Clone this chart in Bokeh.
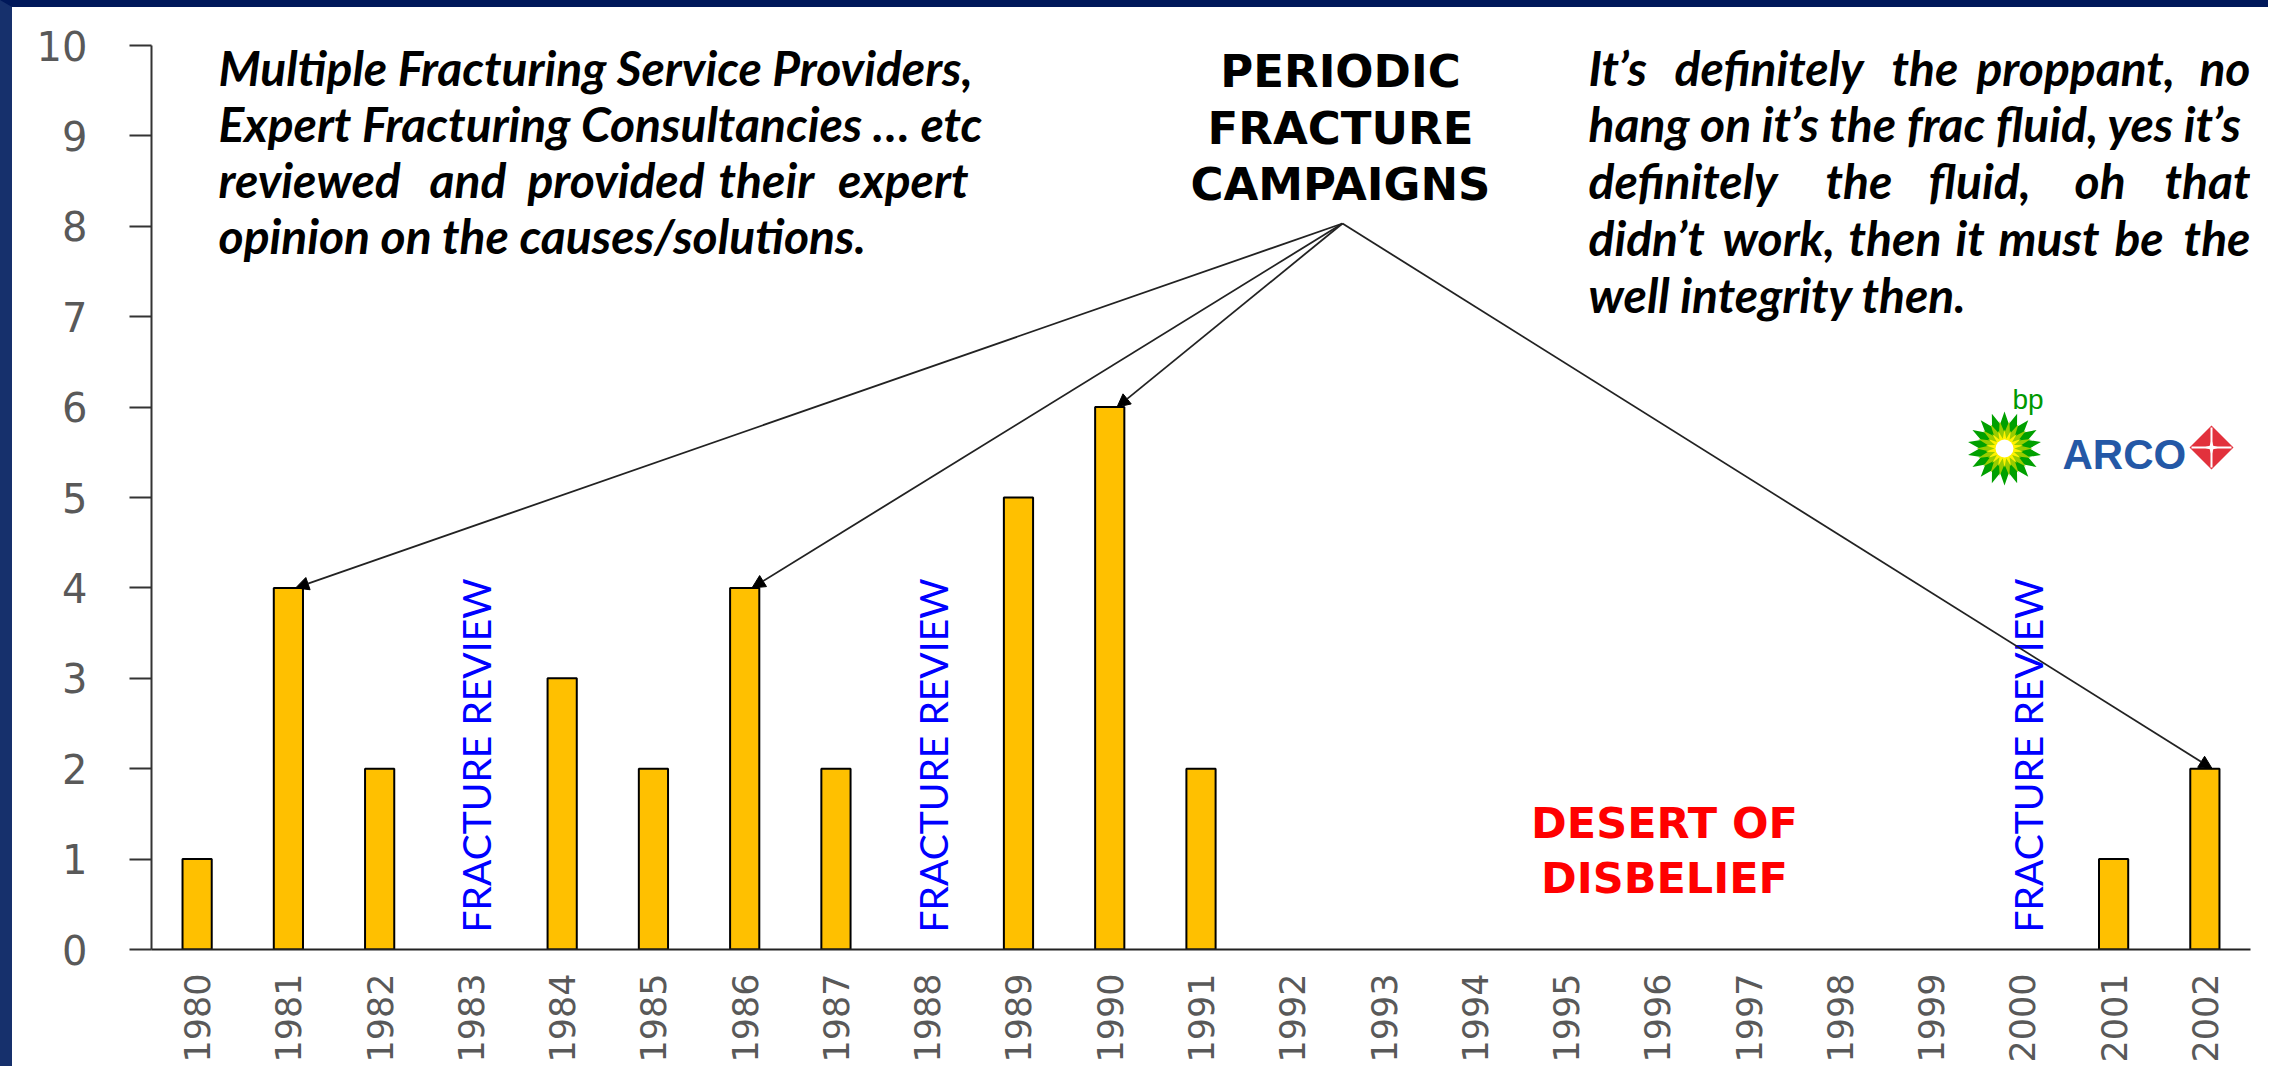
import math
import numpy as np
from bokeh.plotting import figure
from bokeh.models import Range1d, FixedTicker, Arrow, NormalHead, ColumnDataSource
from bokeh.core.properties import value
from bokeh.embed import file_html
from bokeh.resources import INLINE

# ---------------- data ----------------
years = list(range(1980, 2003))
year_labels = [str(y) for y in years]
fracs = [1, 4, 2, 0, 3, 2, 4, 2, 0, 5, 6, 2, 0, 0, 0, 0, 0, 0, 0, 0, 0, 1, 2]
y_ticks = list(range(0, 11))
review_years = [1983, 1988, 2000]
campaign_years = [1981, 1986, 1990, 2002]

# ---------------- geometry (page pixels) ----------------
BL, BT = 12, 7                      # blue frame strips (left, top)
W, H = 2268, 1066                   # canvas size
FL, FR, FT, FB = 151, 2250, 45, 949  # plot frame on the page
X0, X1 = years[0] - 0.5, years[-1] + 0.5
Y0, Y1 = 0, 10
PPX = (FR - FL) / (X1 - X0)
PPY = (FB - FT) / (Y1 - Y0)


def dx(px):
    return X0 + (px - FL) / PPX


def dy(py):
    return Y0 + (FB - py) / PPY


p = figure(width=W, height=H, x_range=Range1d(X0, X1), y_range=Range1d(Y0, Y1),
           output_backend="svg", toolbar_location=None,
           min_border_left=FL - BL, min_border_right=W - (FR - BL),
           min_border_top=FT - BT, min_border_bottom=H - (FB - BT))
p.styles = {"border-left": f"{BL}px solid #16306C", "border-top": f"{BT}px solid #00185A"}
p.background_fill_color = "white"
p.border_fill_color = "white"
p.outline_line_color = None
p.xgrid.visible = False
p.ygrid.visible = False

# ---------------- axes ----------------
p.yaxis.ticker = FixedTicker(ticks=y_ticks)
p.yaxis.major_tick_out = 22
p.yaxis.major_tick_in = 0
p.yaxis.minor_tick_line_color = None
p.yaxis.axis_line_width = 2
p.yaxis.axis_line_color = "#333333"
p.yaxis.major_tick_line_width = 2
p.yaxis.major_tick_line_color = "#333333"
p.yaxis.major_label_text_font = "DejaVu Sans"
p.yaxis.major_label_text_font_size = "40px"
p.yaxis.major_label_text_color = "#595959"
p.yaxis.major_label_standoff = 42

p.xaxis.ticker = FixedTicker(ticks=years)
p.xaxis.major_label_overrides = {y: s for y, s in zip(years, year_labels)}
p.xaxis.major_tick_out = 0
p.xaxis.major_tick_in = 0
p.xaxis.minor_tick_line_color = None
p.xaxis.axis_line_width = 2
p.xaxis.axis_line_color = "#222222"
p.xaxis.major_label_orientation = math.pi / 2
p.xaxis.major_label_text_font = "DejaVu Sans"
p.xaxis.major_label_text_font_size = "35px"
p.xaxis.major_label_text_color = "#595959"
p.xaxis.major_label_standoff = 24

# ---------------- bars (only years with campaigns) ----------------
bar_x = [y for y, v in zip(years, fracs) if v > 0]
bar_top = [v for v in fracs if v > 0]
p.vbar(x=bar_x, top=bar_top, width=0.32, fill_color="#FFC000",
       line_color="black", line_width=2)

# ---------------- fracture review labels ----------------
p.text(x=[y + 0.06 for y in review_years], y=[dy(932)] * len(review_years),
       text=["FRACTURE REVIEW"] * len(review_years), angle=math.pi / 2,
       text_align="left", text_baseline="middle",
       text_font=value("Lato"), text_font_size="39px", text_color="#0000FF")

# ---------------- arrows to campaign bars ----------------
apex_x, apex_y = dx(1342), dy(223)
arr_src = ColumnDataSource(dict(
    x0=[apex_x] * len(campaign_years),
    y0=[apex_y] * len(campaign_years),
    x1=[y + 0.08 for y in campaign_years],
    y1=[fracs[years.index(y)] for y in campaign_years],
))
p.add_layout(Arrow(end=NormalHead(size=13, fill_color="black", line_color="black", line_width=1),
                   x_start="x0", y_start="y0", x_end="x1", y_end="y1", source=arr_src,
                   line_color="#222222", line_width=1.8))

# ---------------- text blocks ----------------
ital = dict(text_font=value("Lato"), text_font_style="bold italic",
            text_font_size="48px", text_color="black", text_baseline="alphabetic")

left_words = []   # (text, px_left, py_baseline)
right_words = []  # (text, px_right, py_baseline)

# left block
left_words += [("Multiple Fracturing Service Providers,", 218, 67)]
left_words += [("Expert Fracturing Consultancies \u2026 etc", 218, 123)]
left_words += [("reviewed", 218, 179), ("and", 429, 179), ("provided", 527, 179), ("their", 718, 179)]
right_words += [("expert", 968, 179)]
left_words += [("opinion on the causes/solutions.", 218, 235)]

# right block
left_words += [("It\u2019s", 1588, 67), ("definitely", 1674, 67), ("the", 1891, 67), ("proppant,", 1976, 67)]
right_words += [("no", 2250, 67)]
left_words += [("hang on it\u2019s the frac fluid, yes it\u2019s", 1588, 123)]
left_words += [("definitely", 1588, 180), ("the", 1825, 180), ("fluid,", 1928, 180), ("oh", 2074, 180)]
right_words += [("that", 2250, 180)]
left_words += [("didn\u2019t", 1588, 237), ("work,", 1722, 237), ("then", 1848, 237), ("it", 1955, 237),
               ("must", 1998, 237), ("be", 2114, 237)]
right_words += [("the", 2250, 237)]
left_words += [("well integrity then.", 1588, 294)]

p.text(x=[dx(w[1]) for w in left_words], y=[dy(w[2]) for w in left_words],
       text=[w[0] for w in left_words], text_align="left", **ital)
p.text(x=[dx(w[1]) for w in right_words], y=[dy(w[2]) for w in right_words],
       text=[w[0] for w in right_words], text_align="right", **ital)

# PERIODIC FRACTURE CAMPAIGNS
p.text(x=[dx(1340)] * 3, y=[dy(71), dy(128), dy(184)],
       text=["PERIODIC", "FRACTURE", "CAMPAIGNS"], text_align="center",
       text_baseline="alphabetic", text_font=value("DejaVu Sans"), text_font_style="bold",
       text_font_size="45px", text_color="black")

# DESERT OF DISBELIEF
p.text(x=[dx(1664)] * 2, y=[dy(822), dy(877)], text=["DESERT OF", "DISBELIEF"],
       text_align="center", text_baseline="alphabetic", text_font=value("DejaVu Sans"),
       text_font_style="bold", text_font_size="43px", text_color="#FF0000")

# ---------------- logos ----------------
def star(cx_px, cy_px, r_out, r_in, n, rot=0.0):
    a = np.arange(2 * n) * math.pi / n + rot
    r = np.where(np.arange(2 * n) % 2 == 0, r_out, r_in)
    return list(dx(cx_px + r * np.cos(a))), list(dy(cy_px - r * np.sin(a)))


bx, by = 2004, 448
for r_o, r_i, col, rot in [(37, 25, "#00A000", math.pi / 2),
                           (28, 16, "#99CC00", math.pi / 2 + math.pi / 18),
                           (19, 10, "#FFF200", math.pi / 2)]:
    xs, ys = star(bx, by, r_o, r_i, 18, rot)
    p.patch(xs, ys, fill_color=col, line_color=None)
p.scatter(x=[dx(bx)], y=[dy(by)], size=18, marker="circle", fill_color="white", line_color=None)
p.text(x=[dx(2012)], y=[dy(399)], text=["bp"], text_align="left", text_baseline="alphabetic",
       text_font=value("Liberation Sans"), text_font_size="28px", text_color="#009900")

p.text(x=[dx(2062)], y=[dy(454)], text=["ARCO"], text_align="left", text_baseline="alphabetic",
       text_font=value("Liberation Sans"), text_font_style="bold", text_font_size="42px",
       text_color="#2458A6")
ax_, ay_ = 2211, 447
p.patch([dx(ax_ - 22), dx(ax_), dx(ax_ + 22), dx(ax_)],
        [dy(ay_), dy(ay_ - 22), dy(ay_), dy(ay_ + 22)], fill_color="#E2313C", line_color=None)
p.segment(x0=[dx(ax_ - 20), dx(ax_)], y0=[dy(ay_), dy(ay_ - 20)],
          x1=[dx(ax_ + 20), dx(ax_)], y1=[dy(ay_), dy(ay_ + 20)], line_color="white", line_width=2)
xs, ys = star(ax_, ay_, 8, 2.5, 4, 0)
p.patch(xs, ys, fill_color="white", line_color=None)

open("out.html", "w").write(file_html(p, INLINE))
